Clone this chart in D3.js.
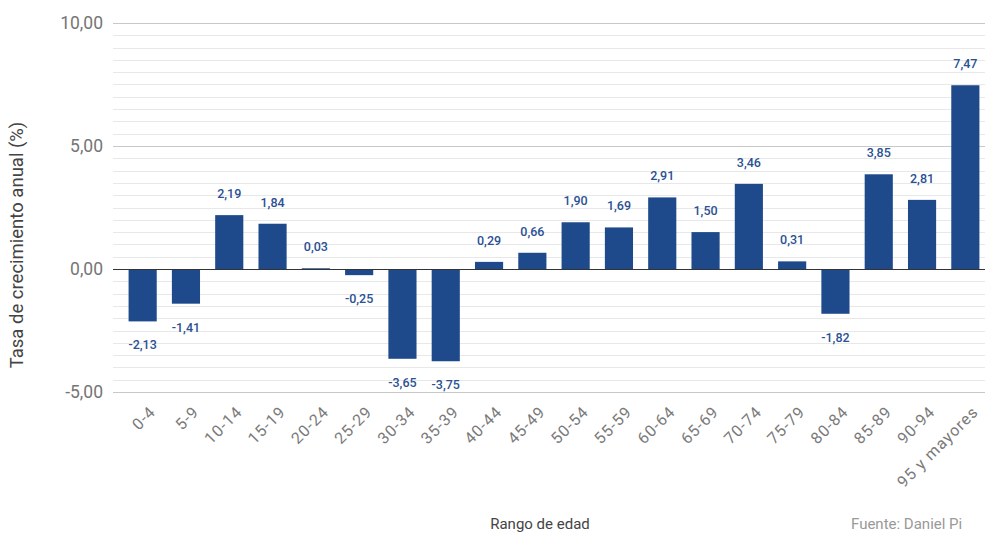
<!DOCTYPE html>
<html>
<head>
<meta charset="utf-8">
<script src="https://cdn.jsdelivr.net/npm/d3@7"></script>
<style>
  body { margin: 0; background: #fff; }
  text { font-family: Roboto, "Noto Sans", sans-serif; }
</style>
</head>
<body>
<div id="chart"></div>
<script>
// age ranges and annual growth rates (%)
var categories = ["0-4", "5-9", "10-14", "15-19", "20-24", "25-29", "30-34", "35-39",
    "40-44", "45-49", "50-54", "55-59", "60-64", "65-69", "70-74", "75-79",
    "80-84", "85-89", "90-94", "95 y mayores"];
var values = [-2.13, -1.41, 2.19, 1.84, 0.03, -0.25, -3.65, -3.75, 0.29, 0.66,
    1.90, 1.69, 2.91, 1.50, 3.46, 0.31, -1.82, 3.85, 2.81, 7.47];
var yTicks = [-5, 0, 5, 10];

var width = 985, height = 535;
var fmt = function(v) { return d3.format(".2f")(v).replace(".", ",").replace("\u2212", "-"); };

var svg = d3.select("#chart").append("svg")
    .attr("width", width)
    .attr("height", height);

var x = d3.scaleBand()
    .domain(categories)
    .range([121, 987])
    .paddingInner(0.35)
    .paddingOuter(0.175);

var y = d3.scaleLinear()
    .domain([-5, 10])
    .range([392, 23]);

// grid every 0.5, darker on the labelled values
var minor = d3.range(-5, 10.01, 0.5);
svg.append("g").selectAll("line")
    .data(minor)
    .enter().append("line")
    .attr("x1", 113).attr("x2", width)
    .attr("y1", function(d) { return Math.round(y(d)) + 0.5; })
    .attr("y2", function(d) { return Math.round(y(d)) + 0.5; })
    .attr("stroke", function(d) { return d % 5 === 0 ? "#c8c8c8" : "#e8e8e8"; })
    .attr("stroke-width", 1);

// y axis labels
var yAxis = d3.axisLeft(y).tickValues(yTicks).tickFormat(fmt).tickSize(0).tickPadding(0);
var gy = svg.append("g").attr("transform", "translate(103,0)").call(yAxis);
gy.select(".domain").remove();
gy.selectAll("text").attr("fill", "#757575").style("font-size", "17.5px");

// bars
svg.append("g").selectAll("rect")
    .data(values)
    .enter().append("rect")
    .attr("x", function(d, i) { return x(categories[i]); })
    .attr("width", x.bandwidth())
    .attr("y", function(d) { return y(Math.max(0, d)); })
    .attr("height", function(d) { return Math.abs(y(d) - y(0)); })
    .attr("fill", "#1e4a8c");

// zero line
svg.append("line")
    .attr("x1", 113).attr("x2", width)
    .attr("y1", Math.round(y(0)) + 0.5).attr("y2", Math.round(y(0)) + 0.5)
    .attr("stroke", "#333").attr("stroke-width", 1.2);

// value labels
svg.append("g").selectAll("text")
    .data(values)
    .enter().append("text")
    .attr("x", function(d, i) { return x(categories[i]) + x.bandwidth() / 2; })
    .attr("y", function(d) { return d >= 0 ? y(d) - 17 : y(d) + 28; })
    .attr("text-anchor", "middle")
    .attr("fill", "#2a5194")
    .style("font-size", "12.5px")
    .style("font-weight", 500)
    .text(fmt);

// x tick labels
var xAxis = d3.axisBottom(x).tickSize(0).tickPadding(0);
var gx = svg.append("g").attr("transform", "translate(0,409)").call(xAxis);
gx.select(".domain").remove();
gx.selectAll("text")
    .attr("fill", "#7a7a7a")
    .style("font-size", "16px")
    .style("letter-spacing", "1px")
    .attr("text-anchor", "end")
    .attr("dy", "0.35em")
    .attr("transform", "translate(10,0) rotate(-45)");

// axis titles
svg.append("text")
    .attr("transform", "translate(23,245) rotate(-90)")
    .attr("text-anchor", "middle")
    .attr("fill", "#444")
    .style("font-size", "18.5px")
    .text("Tasa de crecimiento anual (%)");

svg.append("text")
    .attr("x", 540).attr("y", 529)
    .attr("text-anchor", "middle")
    .attr("fill", "#444")
    .style("font-size", "15px")
    .text("Rango de edad");

svg.append("text")
    .attr("x", 851).attr("y", 529)
    .attr("fill", "#999")
    .style("font-size", "15px")
    .text("Fuente: Daniel Pi");
</script>
</body>
</html>
